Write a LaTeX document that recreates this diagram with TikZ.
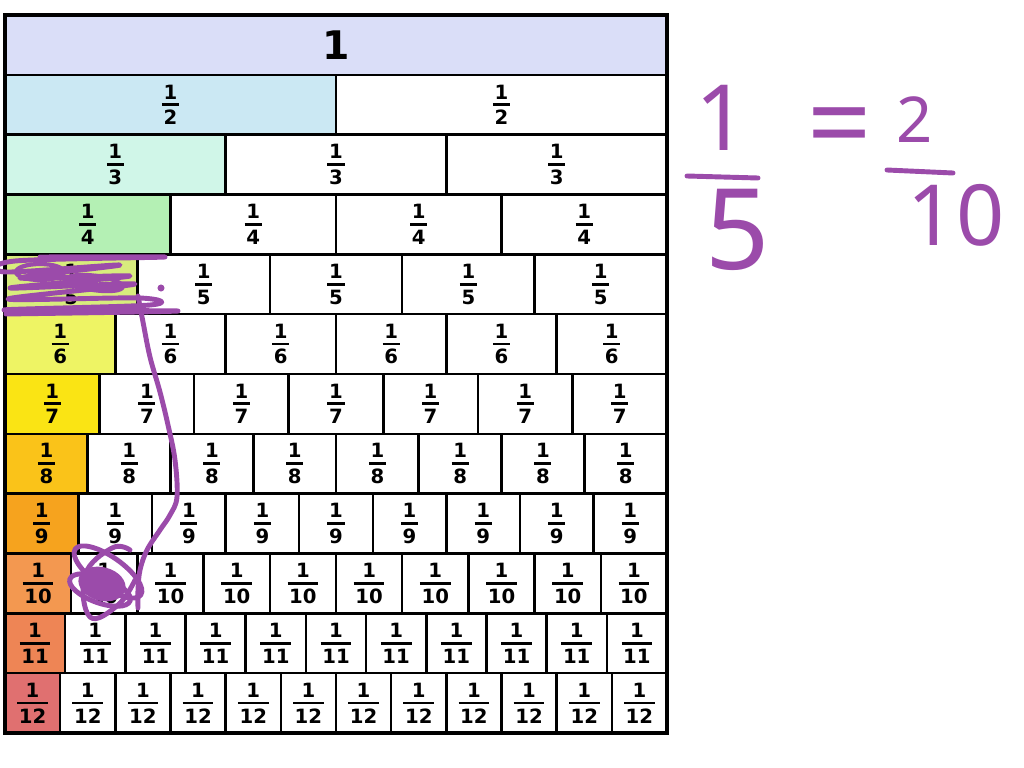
\documentclass[tikz,border=0pt]{standalone}
\usepackage{fontspec}
\usepackage{array}
\setmainfont{DejaVu Sans}
\newfontfamily\handfont{Noto Sans}

\definecolor{row1}{HTML}{DADEF8}
\definecolor{row2}{HTML}{CBE8F3}
\definecolor{row3}{HTML}{D0F6E8}
\definecolor{row4}{HTML}{B4F0B4}
\definecolor{row5}{HTML}{D8EC7D}
\definecolor{row6}{HTML}{EEF464}
\definecolor{row7}{HTML}{FAE414}
\definecolor{row8}{HTML}{FAC319}
\definecolor{row9}{HTML}{F6A31E}
\definecolor{row10}{HTML}{F39850}
\definecolor{row11}{HTML}{EE8555}
\definecolor{row12}{HTML}{E07070}
\definecolor{penink}{HTML}{9B4BAA}

% one over n, stacked
\newcommand{\fr}[1]{\setlength\arrayrulewidth{2pt}\renewcommand\arraystretch{0}%
  \begin{tabular}{@{\hspace{1.2pt}}c@{\hspace{1.2pt}}}1\rule[-3pt]{0pt}{3pt}\\\hline\rule{0pt}{13.2pt}#1\end{tabular}}

\begin{document}
\begin{tikzpicture}[x=0.025cm, y=-0.025cm,
    cell/.style={draw=black, line width=1.8pt, inner sep=0pt, outer sep=0pt,
      minimum height=1.4958cm, font=\fontsize{14}{16}\selectfont\bfseries},
    pen/.style={draw=penink, line width=3.5pt, line cap=round, line join=round},
    hand/.style={text=penink, inner sep=0pt, font=\handfont}]
    \fill[white] (0,0) rectangle (1024,768);
    \useasboundingbox (0,0) rectangle (1024,768);

    % the wall
    \node[cell, fill=row1, minimum width=662*0.025cm, font=\fontsize{28}{28}\selectfont\bfseries] (c1-1) at (336,44.9) {1};
    \foreach \r in {2,...,12}{
        \pgfmathsetmacro\w{662/\r}
        \pgfmathsetmacro\cy{15+(\r-0.5)*59.83}
        \foreach \k in {1,...,\r}{
            \pgfmathsetmacro\cx{5+(\k-0.5)*\w}
            \ifnum\k=1 \def\fillc{row\r}\else\def\fillc{white}\fi
            \node[cell, fill=\fillc, minimum width=\w*0.025cm] (c\r-\k) at (\cx,\cy) {\fr{\r}};
        }
    }
    \draw[line width=2.2pt] (c1-1.north west) rectangle (c12-12.south east);

    % scribbles
    \draw[pen] plot[smooth, tension=0.55] coordinates {(40,257) (165,257) (15,261) (6,272) (120,265) (20,278) (130,276) (10,288) (135,284) (8,299) (140,298) (150,305) (4,310) (178,311) (6,314)};
    \draw[pen, line width=3pt] (40,272) ellipse [x radius=0.6cm, y radius=0.2cm];
    \draw[pen, line width=3pt, rotate around={-8:(95,283)}] (95,283) ellipse [x radius=0.7cm, y radius=0.18cm];
    \fill[penink] (161,288) circle (2.5pt);
    \draw[pen] plot[smooth, tension=0.6] coordinates {(138,296) (143,322) (150,357) (160,392) (168,425) (175,460) (177,497) (170,515) (160,530) (147,550) (140,570) (138,590) (138,608)};
    \draw[pen, rotate around={-35:(108,572)}] (108,572) ellipse [x radius=1.0cm, y radius=0.38cm];
    \draw[pen, rotate around={-20:(100,590)}] (100,590) ellipse [x radius=0.8cm, y radius=0.32cm];
    \draw[pen] plot[smooth, tension=0.7] coordinates {(130,550) (112,548) (85,575) (90,617) (118,605) (135,580)};
    \fill[penink, rotate around={-15:(102,584)}] (102,584) ellipse [x radius=0.6cm, y radius=0.42cm];

    % 1/5 = 2/10
    \node[hand, font=\handfont\fontsize{65}{65}\selectfont] (n1) at (722,118) {1};
    \draw[pen] (687,176) -- (758,178);
    \node[hand, font=\handfont\fontsize{80}{80}\selectfont] (d5) at (738,230) {5};
    \node[hand, font=\handfont\fontsize{80}{80}\selectfont] (eq) at (840,135) {=};
    \node[hand, font=\handfont\fontsize{45}{45}\selectfont] (n2) at (915,120) {2};
    \draw[pen] (887,170) -- (953,173);
    \node[hand, font=\handfont\fontsize{60}{60}\selectfont] (d10) at (956,215) {10};
\end{tikzpicture}
\end{document}
